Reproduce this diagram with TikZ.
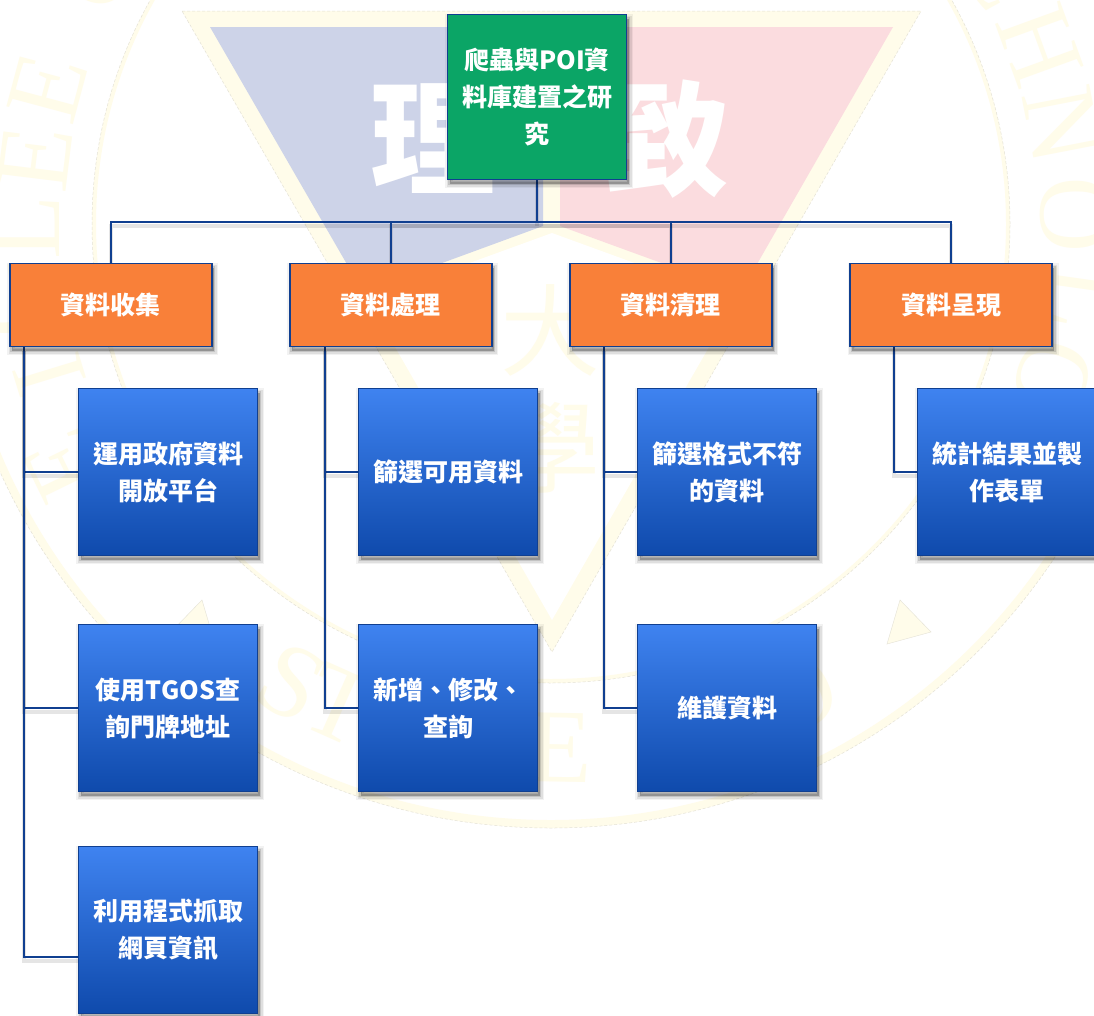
\documentclass[tikz,border=0pt]{standalone}
\usepackage{fontspec}
\setmainfont{Noto Sans CJK TC}
\newfontfamily\serifwm{Liberation Serif}
\pgfdeclarelayer{wmlayer}
\pgfdeclarelayer{connlayer}
\pgfsetlayers{wmlayer,connlayer,main}
\definecolor{cream}{HTML}{FFFCEA}
\definecolor{creamedge}{HTML}{E4E2D6}
\definecolor{wblue}{HTML}{CDD3E8}
\definecolor{wpink}{HTML}{FBDCDF}
\definecolor{edgeblue}{HTML}{103F90}
\definecolor{boxgreen}{HTML}{0BA566}
\definecolor{boxorange}{HTML}{F98039}
\definecolor{gradtop}{HTML}{3F83F0}
\definecolor{gradmid}{HTML}{2B6AD6}
\definecolor{gradbot}{HTML}{0F4AAC}
\tikzset{
  softshadow/.style={
    preaction={draw=black,draw opacity=.05,line width=9pt,transform canvas={shift={(2pt,-4pt)}}},
    preaction={draw=black,draw opacity=.08,line width=6pt,transform canvas={shift={(2pt,-4pt)}}},
    preaction={draw=black,draw opacity=.12,line width=3pt,transform canvas={shift={(2pt,-4pt)}}},
    preaction={fill=black,fill opacity=.25,transform canvas={shift={(2pt,-4pt)}}}},
  boxbase/.style={softshadow,draw=edgeblue,line width=1.8pt,inner sep=0pt,align=center,text=white,
    font=\bfseries\fontsize{25}{37}\selectfont},
  rootbox/.style={boxbase,fill=boxgreen,minimum width=179pt,minimum height=165pt},
  topicbox/.style={boxbase,fill=boxorange,minimum width=202pt,minimum height=83pt},
  leafbox/.style={boxbase,top color=gradtop,middle color=gradmid,bottom color=gradbot,minimum width=179pt,minimum height=167pt},
  link/.style={draw=edgeblue,line width=1.6pt,
    preaction={draw=black,draw opacity=.10,line width=4pt,transform canvas={yshift=-4pt}}},
  wmletter/.style={text=cream,inner sep=0pt,font=\serifwm\fontsize{105}{110}\selectfont},
  wmcjk/.style={inner sep=0pt,font=\fontsize{100}{105}\selectfont,text=cream},
  wmwhite/.style={inner sep=0pt,font=\bfseries\fontsize{125}{130}\selectfont,text=white},
  wmedge/.style={draw=creamedge,line width=.5pt,densely dashed}
}
\begin{document}
\begin{tikzpicture}[x=1pt,y=-1pt]
\useasboundingbox (0,0) rectangle (1094,1015);
\clip (0,0) rectangle (1094,1015);
\begin{pgfonlayer}{wmlayer}
\fill[white] (0,0) rectangle (1094,1015);
% seal rings
\draw[cream,line width=8pt] (551,224) circle (600pt);
\draw[cream,line width=4pt] (551,224) circle (457pt);
\draw[wmedge] (551,224) circle (604pt);
\draw[wmedge] (551,224) circle (459pt);
% triangles at the sides
\fill[cream,draw=creamedge,line width=.4pt] (900,600) -- (931,632) -- (887,644) -- cycle;
\fill[cream,draw=creamedge,line width=.4pt] (202,600) -- (171,632) -- (215,644) -- cycle;
% main inverted triangle
\fill[cream] (182,11) -- (921,11) -- (552,652) -- cycle;
\draw[wmedge] (182,11) -- (921,11) -- (552,652) -- cycle;
\fill[wblue] (210,27) -- (543,27) -- (543,226) -- (363,292) -- cycle;
\fill[wpink] (560,27) -- (893,27) -- (741,292) -- (560,226) -- cycle;
\fill[white] (552,233) -- (368,300) -- (552,620) -- (736,300) -- cycle;
% lettering
\node[wmwhite] (wmli) at (433,139) {理};
\node[wmwhite] (wmzhi) at (668,139) {致};
\node[wmcjk] (wmda) at (550,330) {大};
\node[wmcjk] (wmxue) at (550,448) {學};
\foreach \ch/\px/\py/\rt [count=\i] in {
  C/97/-29/61, E/48/88/75, E/35/158/83, L/25/227/90, G/8/300/98, I/50/375/107, E/65/465/116,
  S/292/683/-29, T/340/705/-24, E/560/748/-1, O/797/695/28,
  C/1000/-30/-60, H/1040/45/-70, N/1062/125/-79, O/1075/215/-89, L/1085/300/-98, O/1052/378/-108}
  {\node[wmletter,rotate=\rt] (wmch\i) at (\px,\py) {\ch};}
\end{pgfonlayer}
% boxes
\node[rootbox] (root) at (537,97) {爬蟲與POI資\\料庫建置之研\\究};
\node[topicbox] (t1) at (110.75,305) {資料收集};
\node[topicbox] (t2) at (390.75,305) {資料處理};
\node[topicbox] (t3) at (670.75,305) {資料清理};
\node[topicbox] (t4) at (951,305) {資料呈現};
\node[leafbox] (a1) at (168,472) {運用政府資料\\開放平台};
\node[leafbox] (a2) at (168,708) {使用TGOS查\\詢門牌地址};
\node[leafbox] (a3) at (168,930) {利用程式抓取\\網頁資訊};
\node[leafbox] (b1) at (448,472) {篩選可用資料};
\node[leafbox] (b2) at (448,708) {新增、修改、\\查詢};
\node[leafbox] (c1) at (727,472) {篩選格式不符\\的資料};
\node[leafbox] (c2) at (727,708) {維護資料};
\node[leafbox] (d1) at (1007,472) {統計結果並製\\作表單};
% connector points
\coordinate (bus) at (537,222);
\coordinate (s1) at (24,347);
\coordinate (s2) at (325,347);
\coordinate (s3) at (604,347);
\coordinate (s4) at (894,347);
\coordinate (a3in) at (78,957);
\begin{pgfonlayer}{connlayer}
\draw[link] (root.south) -- (bus);
\draw[link] (bus) -| (t1.north);
\draw[link] (bus) -| (t2.north);
\draw[link] (bus) -| (t3.north);
\draw[link] (bus) -| (t4.north);
\draw[link] (s1) |- (a1.west);
\draw[link] (s1) |- (a2.west);
\draw[link] (s1) |- (a3in);
\draw[link] (s2) |- (b1.west);
\draw[link] (s2) |- (b2.west);
\draw[link] (s3) |- (c1.west);
\draw[link] (s3) |- (c2.west);
\draw[link] (s4) |- (d1.west);
\end{pgfonlayer}
\end{tikzpicture}
\end{document}
